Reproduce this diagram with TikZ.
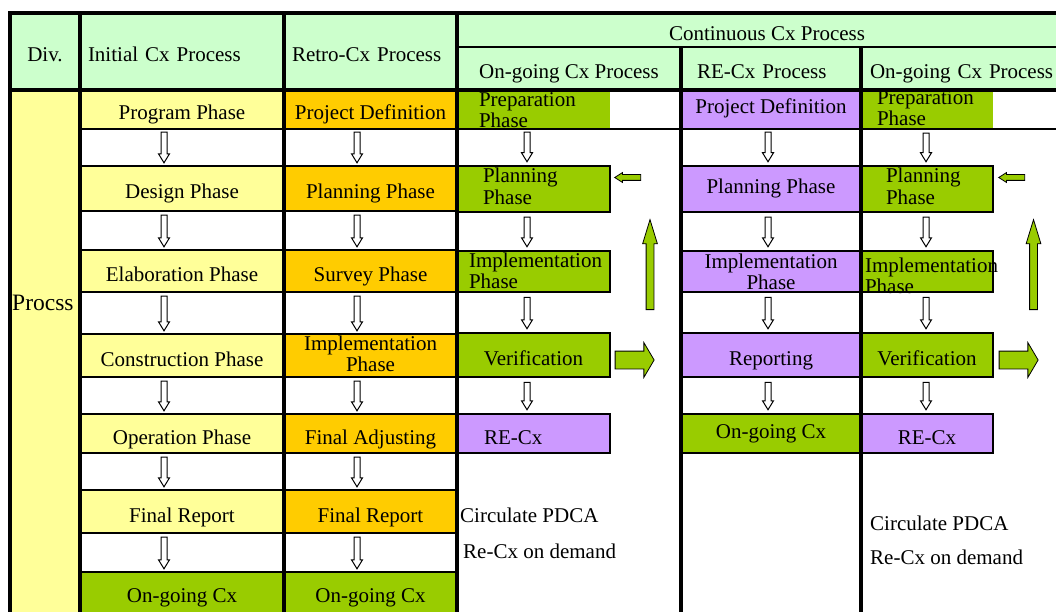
\documentclass[tikz,border=0pt]{standalone}
\usepackage{fontspec}
\setmainfont{Liberation Serif}
\usetikzlibrary{calc,shapes.arrows}
\hyphenpenalty=10000
\definecolor{hdrgreen}{HTML}{CCFFCC}
\definecolor{celyellow}{HTML}{FFFF99}
\definecolor{celorange}{HTML}{FFCC00}
\definecolor{celgreen}{HTML}{99CC00}
\definecolor{celpurple}{HTML}{CC99FF}
\tikzset{
  cell/.style={inner sep=0pt, text height=25pt, text depth=4pt},
  hdr/.style={cell, fill=hdrgreen},
  inic/.style={cell, fill=celyellow, minimum width=204pt},
  retc/.style={cell, fill=celorange, minimum width=173pt},
  ongc/.style={cell, fill=celgreen},
  recc/.style={cell, fill=celpurple},
  boxed/.style={draw=black, line width=2.5pt},
  raised/.style={text height=14pt, text depth=4pt},
  lefttext/.style 2 args={inner xsep=#1, text width=#2, align=left},
  twoline/.style 2 args={text height=#1, text depth=#2},
  note/.style={anchor=base west, inner sep=0pt},
  gridframe/.style={line width=4pt},
  gridrule/.style={line width=2.5pt},
  hollow/.style={every path/.style={draw=black, fill=white, line width=1pt},
    to path={let \p1=(\tikztostart.south), \p2=(\tikztotarget.north), \p3=(#1) in
      (\x3-3pt,\y1-4pt) -- (\x3-3pt,\y2+12pt) -- (\x3-5.5pt,\y2+12pt) -- (\x3,\y2+3pt)
      -- (\x3+5.5pt,\y2+12pt) -- (\x3+3pt,\y2+12pt) -- (\x3+3pt,\y1-4pt) -- cycle}},
  cyc/.style={single arrow, draw=black, line width=0.8pt, fill=celgreen, inner xsep=0pt},
  backarr/.style={cyc, minimum height=26pt, inner ysep=2.5pt, single arrow head extend=2pt,
    single arrow tip angle=65, shape border rotate=180},
  uparr/.style={cyc, minimum height=90pt, inner xsep=3.5pt, inner ysep=3.5pt, single arrow head extend=3.5pt,
    single arrow tip angle=34, shape border rotate=90},
  fwdarr/.style={cyc, minimum height=39pt, inner ysep=8.5pt, single arrow head extend=8.5pt,
    single arrow tip angle=119}
}
\begin{document}
\begin{tikzpicture}[x=1pt, y=-1pt, font=\fontsize{21}{21}\selectfont]
  \useasboundingbox (0,0) rectangle (1056,612);
  \clip (0,0) rectangle (1056,612);
  \path
    (45,51.5) node[hdr, minimum width=70pt, minimum height=77pt] (div) {Div.}
    (182,51.5) node[hdr, minimum width=204pt, minimum height=77pt, lefttext={8pt}{188pt}] (inihdr) {Initial Cx Process}
    (370.5,51.5) node[hdr, minimum width=173pt, minimum height=77pt, lefttext={8pt}{157pt}] (rethdr) {Retro-Cx Process}
    (767,30) node[hdr, minimum width=620pt, minimum height=34pt] (conthdr) {Continuous Cx Process}
    (569,68.5) node[hdr, minimum width=224pt, minimum height=43pt] (onghdr) {On-going Cx Process}
    (771,68.5) node[hdr, minimum width=180pt, minimum height=43pt, lefttext={16pt}{148pt}] (rechdr) {RE-Cx Process}
    (969,68.5) node[hdr, minimum width=216pt, minimum height=43pt, lefttext={9pt}{198pt}] (onghdrb) {On-going Cx Process}
    (45,351) node[cell, fill=celyellow, minimum width=70pt, minimum height=522pt] (proc) {}
    (12,310) node[note, font=\fontsize{23.5}{24}\selectfont] (proclbl) {Procss};
  \path
    (182,109) node[inic, minimum height=38pt] (ini1) {Program Phase}
    (182,188.5) node[inic, minimum height=45pt] (ini2) {Design Phase}
    (182,271) node[inic, minimum height=42pt] (ini3) {Elaboration Phase}
    (182,355.5) node[inic, minimum height=43pt] (ini4) {Construction Phase}
    (182,433.5) node[inic, minimum height=39pt] (ini5) {Operation Phase}
    (182,511.5) node[inic, minimum height=43pt] (ini6) {Final Report}
    (182,596) node[ongc, minimum width=204pt, minimum height=48pt, text height=16pt, text depth=4pt] (ini7) {On-going Cx}
    (370.5,109) node[retc, minimum height=38pt] (ret1) {Project Definition}
    (370.5,188.5) node[retc, minimum height=45pt] (ret2) {Planning Phase}
    (370.5,271) node[retc, minimum height=42pt] (ret3) {Survey Phase}
    (370.5,355.5) node[retc, minimum height=43pt, text width=173pt, align=center, twoline={16pt}{27pt}] (ret4) {Implementation\\Phase}
    (370.5,433.5) node[retc, minimum height=39pt] (ret5) {Final Adjusting}
    (370.5,511.5) node[retc, minimum height=43pt] (ret6) {Final Report}
    (370.5,596) node[ongc, minimum width=173pt, minimum height=48pt, text height=16pt, text depth=4pt] (ret7) {On-going Cx};
  \path
    (533.5,109) node[ongc, minimum width=153pt, minimum height=38pt, lefttext={22pt}{109pt}, twoline={16pt}{20pt}] (prep1) {Preparation\\Phase}
    (533.5,189) node[ongc, boxed, minimum width=153pt, minimum height=46pt, lefttext={26pt}{101pt}, twoline={16pt}{28pt}] (plan1) {Planning\\Phase}
    (533.5,271.5) node[ongc, boxed, minimum width=153pt, minimum height=41pt, lefttext={12pt}{129pt}, twoline={16pt}{25pt}] (impl1) {Implementation\\Phase}
    (533.5,355) node[ongc, boxed, minimum width=153pt, minimum height=44pt] (veri1) {Verification}
    (533.5,433.5) node[recc, boxed, minimum width=153pt, minimum height=39pt, lefttext={27pt}{99pt}] (recx1) {RE-Cx}
    (771,109) node[recc, raised, minimum width=180pt, minimum height=38pt] (pdef2) {Project Definition}
    (771,189) node[recc, boxed, raised, minimum width=180pt, minimum height=46pt] (plan2) {Planning Phase}
    (771,271.5) node[recc, boxed, minimum width=180pt, minimum height=41pt, text width=180pt, align=center, twoline={16pt}{23pt}] (impl2) {Implementation\\Phase}
    (771,355) node[recc, boxed, minimum width=180pt, minimum height=44pt] (rep2) {Reporting}
    (771,433.5) node[ongc, boxed, raised, minimum width=180pt, minimum height=39pt] (ongo2) {On-going Cx}
    (927,109) node[ongc, minimum width=132pt, minimum height=38pt, lefttext={16pt}{100pt}, twoline={16pt}{24pt}] (prep3) {Preparation\\Phase}
    (927,189) node[ongc, boxed, minimum width=132pt, minimum height=46pt, lefttext={25pt}{82pt}, twoline={16pt}{28pt}] (plan3) {Planning\\Phase}
    (927,271.5) node[ongc, boxed, minimum width=132pt, minimum height=41pt, lefttext={4pt}{124pt}, twoline={16pt}{15pt}] (impl3) {Implementation\\Phase}
    (927,355) node[ongc, boxed, minimum width=132pt, minimum height=44pt] (veri3) {Verification}
    (927,433.5) node[recc, boxed, minimum width=132pt, minimum height=39pt] (recx3) {RE-Cx}
    (460,522) node[note] (pdca1) {Circulate PDCA}
    (463,558) node[note] (demand1) {Re-Cx on demand}
    (870,530) node[note] (pdca3) {Circulate PDCA}
    (870,564) node[note] (demand3) {Re-Cx on demand};
  \draw[gridframe] (8,13) -- (1056,13) (8,90) -- (1056,90)
    (10,13) -- (10,612) (80,13) -- (80,612) (284,13) -- (284,612)
    (457,13) -- (457,612) (681,47) -- (681,612) (861,47) -- (861,612);
  \draw[gridrule] (457,47) -- (1056,47) (80,129) -- (1056,129)
    (80,166) -- (457,166) (80,211) -- (457,211) (80,250) -- (457,250)
    (80,292) -- (457,292) (80,334) -- (457,334) (80,377) -- (457,377)
    (80,414) -- (457,414) (80,453) -- (457,453) (80,490) -- (457,490)
    (80,533) -- (457,533) (80,572) -- (457,572);
  \coordinate (inix) at (164,0);
  \coordinate (retx) at (357,0);
  \coordinate (ongx) at (527,0);
  \coordinate (recxx) at (768,0);
  \coordinate (ongbx) at (926,0);
  \begin{scope}[hollow=inix]
    \draw (ini1) to (ini2);
    \draw (ini2) to (ini3);
    \draw (ini3) to (ini4);
    \draw (ini4) to (ini5);
    \draw (ini5) to (ini6);
    \draw (ini6) to (ini7);
  \end{scope}
  \begin{scope}[hollow=retx]
    \draw (ret1) to (ret2);
    \draw (ret2) to (ret3);
    \draw (ret3) to (ret4);
    \draw (ret4) to (ret5);
    \draw (ret5) to (ret6);
    \draw (ret6) to (ret7);
  \end{scope}
  \begin{scope}[hollow=ongx]
    \draw (prep1) to (plan1);
    \draw (plan1) to (impl1);
    \draw (impl1) to (veri1);
    \draw (veri1) to (recx1);
  \end{scope}
  \begin{scope}[hollow=recxx]
    \draw (pdef2) to (plan2);
    \draw (plan2) to (impl2);
    \draw (impl2) to (rep2);
    \draw (rep2) to (ongo2);
  \end{scope}
  \begin{scope}[hollow=ongbx]
    \draw (prep3) to (plan3);
    \draw (plan3) to (impl3);
    \draw (impl3) to (veri3);
    \draw (veri3) to (recx3);
  \end{scope}
  \path
    (630,177.5) node[backarr] (back1) {}
    (650,271) node[uparr] (up1) {}
    (632,360) node[fwdarr] (fwd1) {}
    (1014,177.5) node[backarr] (back3) {}
    (1033.5,271) node[uparr] (up3) {}
    (1016,360) node[fwdarr] (fwd3) {};
\end{tikzpicture}
\end{document}
